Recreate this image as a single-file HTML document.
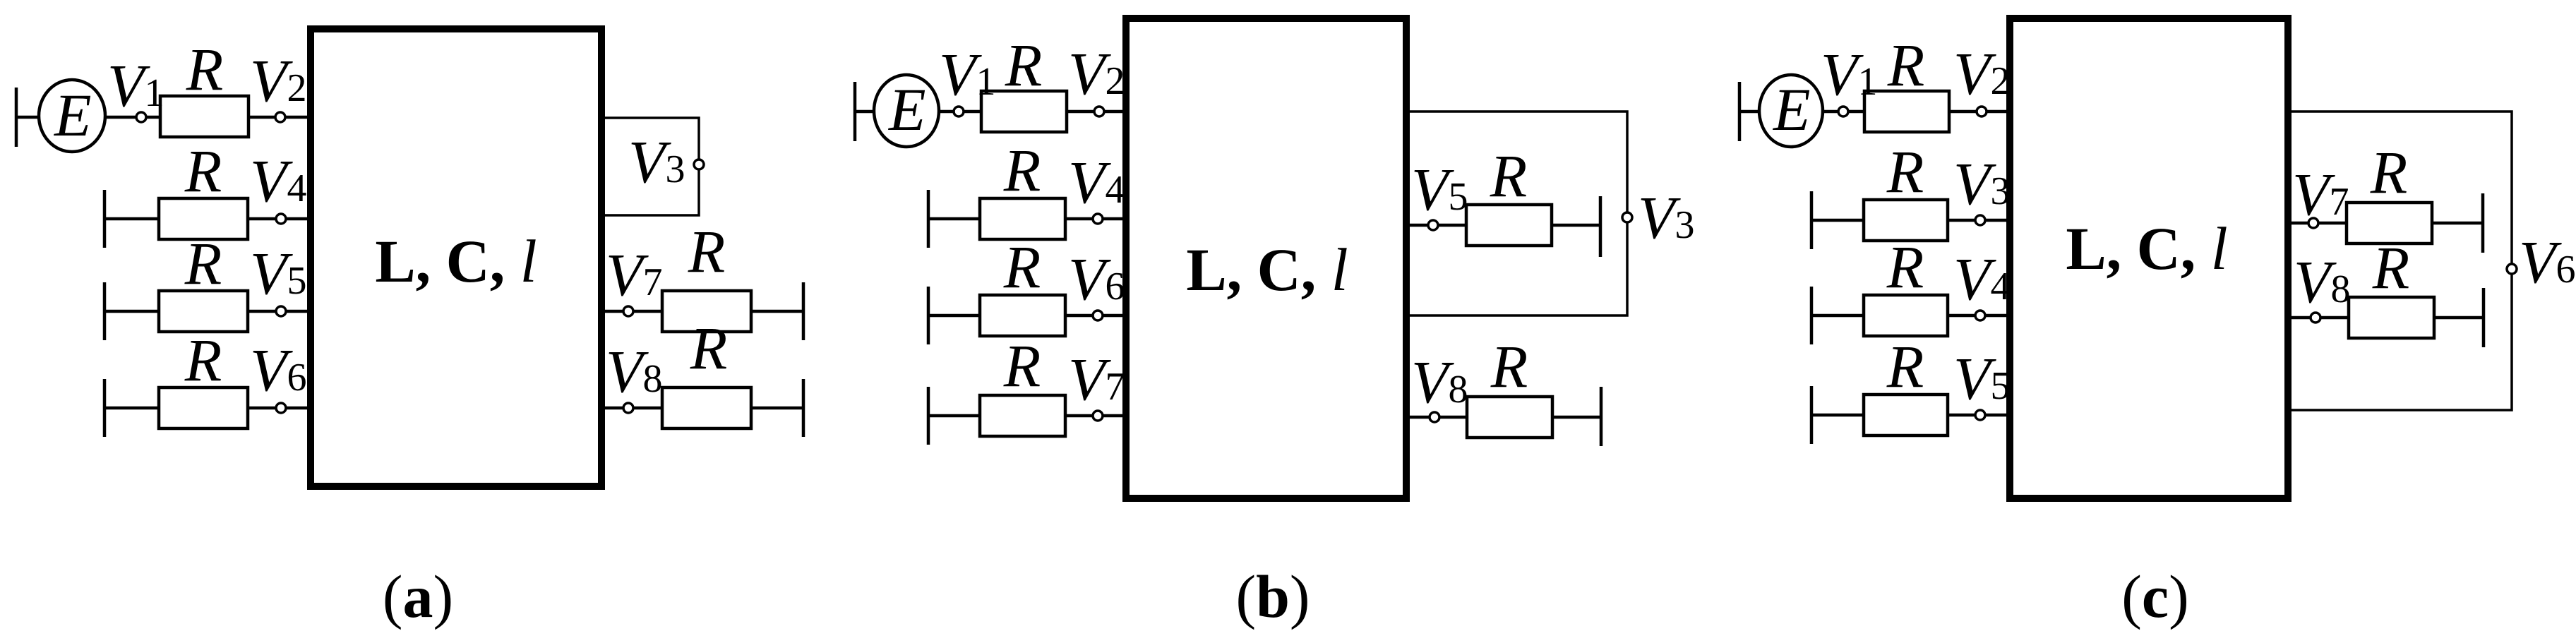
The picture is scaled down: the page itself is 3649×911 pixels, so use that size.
<!DOCTYPE html>
<html><head><meta charset="utf-8"><style>
html,body{margin:0;padding:0;background:#fff;}
svg{display:block;}
text{font-family:"Liberation Serif",serif;fill:#000;}
.i{font-style:italic;font-size:86px;}
.s{font-style:normal;font-size:56px;}
.b{font-weight:bold;font-size:86px;}
</style></head><body>
<svg width="3649" height="911" viewBox="0 0 3649 911" xmlns="http://www.w3.org/2000/svg">
<g fill="none" stroke="#000" stroke-width="4.5">
<!-- ===== Panel a ===== -->
<rect x="440" y="41" width="412" height="648" stroke-width="10"/>
<line x1="23" y1="124" x2="23" y2="208"/>
<line x1="23" y1="166" x2="54" y2="166"/>
<ellipse cx="102" cy="164" rx="47" ry="51"/>
<line x1="149" y1="166" x2="227" y2="166"/>
<rect x="227" y="136" width="125" height="58"/>
<line x1="352" y1="166" x2="440" y2="166"/>
<!-- rows -->
<line x1="148" y1="269" x2="148" y2="351"/><line x1="148" y1="310" x2="225" y2="310"/><rect x="225" y="281" width="126" height="58"/><line x1="351" y1="310" x2="440" y2="310"/>
<line x1="148" y1="400" x2="148" y2="482"/><line x1="148" y1="441" x2="225" y2="441"/><rect x="225" y="412" width="126" height="58"/><line x1="351" y1="441" x2="440" y2="441"/>
<line x1="148" y1="537" x2="148" y2="619"/><line x1="148" y1="578" x2="225" y2="578"/><rect x="225" y="549" width="126" height="58"/><line x1="351" y1="578" x2="440" y2="578"/>
<!-- right -->
<path d="M852 167 H990 V305 H852" stroke-width="3.5"/>
<line x1="852" y1="441" x2="938" y2="441"/><rect x="938" y="412" width="126" height="58"/><line x1="1064" y1="441" x2="1138" y2="441"/><line x1="1138" y1="400" x2="1138" y2="482"/>
<line x1="852" y1="578" x2="938" y2="578"/><rect x="938" y="549" width="126" height="58"/><line x1="1064" y1="578" x2="1138" y2="578"/><line x1="1138" y1="537" x2="1138" y2="619"/>

<!-- ===== Panel b ===== -->
<rect x="1595" y="26" width="397" height="680" stroke-width="10"/>
<line x1="1211" y1="116" x2="1211" y2="200"/>
<line x1="1211" y1="158" x2="1238" y2="158"/>
<ellipse cx="1284" cy="157" rx="46" ry="51"/>
<line x1="1330" y1="158" x2="1390" y2="158"/>
<rect x="1390" y="129" width="121" height="58"/>
<line x1="1511" y1="158" x2="1595" y2="158"/>
<line x1="1315" y1="269" x2="1315" y2="351"/><line x1="1315" y1="310" x2="1388" y2="310"/><rect x="1388" y="281" width="121" height="58"/><line x1="1509" y1="310" x2="1595" y2="310"/>
<line x1="1315" y1="406" x2="1315" y2="488"/><line x1="1315" y1="447" x2="1388" y2="447"/><rect x="1388" y="418" width="121" height="58"/><line x1="1509" y1="447" x2="1595" y2="447"/>
<line x1="1315" y1="548" x2="1315" y2="630"/><line x1="1315" y1="589" x2="1388" y2="589"/><rect x="1388" y="560" width="121" height="58"/><line x1="1509" y1="589" x2="1595" y2="589"/>
<path d="M1992 158 H2305 V447 H1992" stroke-width="3.5"/>
<line x1="1992" y1="319" x2="2077" y2="319"/><rect x="2077" y="290" width="121" height="58"/><line x1="2198" y1="319" x2="2267" y2="319"/><line x1="2267" y1="278" x2="2267" y2="364"/>
<line x1="1992" y1="591" x2="2078" y2="591"/><rect x="2078" y="562" width="121" height="58"/><line x1="2199" y1="591" x2="2268" y2="591"/><line x1="2268" y1="548" x2="2268" y2="632"/>

<!-- ===== Panel c ===== -->
<rect x="2847" y="26" width="394" height="680" stroke-width="10"/>
<line x1="2464" y1="116" x2="2464" y2="200"/>
<line x1="2464" y1="158" x2="2492" y2="158"/>
<ellipse cx="2537" cy="157" rx="45" ry="51"/>
<line x1="2582" y1="158" x2="2641" y2="158"/>
<rect x="2641" y="129" width="120" height="58"/>
<line x1="2761" y1="158" x2="2847" y2="158"/>
<line x1="2566" y1="271" x2="2566" y2="353"/><line x1="2566" y1="312" x2="2640" y2="312"/><rect x="2640" y="283" width="119" height="58"/><line x1="2759" y1="312" x2="2847" y2="312"/>
<line x1="2566" y1="406" x2="2566" y2="488"/><line x1="2566" y1="447" x2="2640" y2="447"/><rect x="2640" y="418" width="119" height="58"/><line x1="2759" y1="447" x2="2847" y2="447"/>
<line x1="2566" y1="547" x2="2566" y2="629"/><line x1="2566" y1="588" x2="2640" y2="588"/><rect x="2640" y="559" width="119" height="58"/><line x1="2759" y1="588" x2="2847" y2="588"/>
<path d="M3241 158 H3558 V581 H3241" stroke-width="3.5"/>
<line x1="3241" y1="316" x2="3324" y2="316"/><rect x="3324" y="287" width="121" height="58"/><line x1="3445" y1="316" x2="3517" y2="316"/><line x1="3517" y1="274" x2="3517" y2="358"/>
<line x1="3241" y1="450" x2="3327" y2="450"/><rect x="3327" y="421" width="121" height="58"/><line x1="3448" y1="450" x2="3518" y2="450"/><line x1="3518" y1="408" x2="3518" y2="492"/>
</g>

<!-- nodes -->
<g fill="#fff" stroke="#000" stroke-width="3.5">
<circle cx="200" cy="166" r="7"/><circle cx="397" cy="166" r="7"/><circle cx="398" cy="310" r="7"/><circle cx="398" cy="441" r="7"/><circle cx="398" cy="578" r="7"/>
<circle cx="990" cy="233" r="7"/><circle cx="890" cy="441" r="7"/><circle cx="890" cy="578" r="7"/>
<circle cx="1358" cy="158" r="7"/><circle cx="1557" cy="158" r="7"/><circle cx="1555" cy="310" r="7"/><circle cx="1555" cy="447" r="7"/><circle cx="1555" cy="589" r="7"/>
<circle cx="2305" cy="308" r="7"/><circle cx="2030" cy="319" r="7"/><circle cx="2032" cy="591" r="7"/>
<circle cx="2611" cy="158" r="7"/><circle cx="2807" cy="158" r="7"/><circle cx="2805" cy="312" r="7"/><circle cx="2805" cy="447" r="7"/><circle cx="2805" cy="588" r="7"/>
<circle cx="3558" cy="381" r="7"/><circle cx="3277" cy="316" r="7"/><circle cx="3280" cy="450" r="7"/>
</g>

<!-- Panel a text -->
<text class="i" x="77" y="192" font-size="80">E</text>
<text class="i" x="152" y="150">V<tspan class="s">1</tspan></text>
<text class="i" x="290" y="127" text-anchor="middle">R</text>
<text class="i" x="354" y="143">V<tspan class="s">2</tspan></text>
<text class="i" x="288" y="271" text-anchor="middle">R</text>
<text class="i" x="354" y="285">V<tspan class="s">4</tspan></text>
<text class="i" x="288" y="402" text-anchor="middle">R</text>
<text class="i" x="354" y="416">V<tspan class="s">5</tspan></text>
<text class="i" x="288" y="539" text-anchor="middle">R</text>
<text class="i" x="354" y="553">V<tspan class="s">6</tspan></text>
<text class="i" x="890" y="258">V<tspan class="s">3</tspan></text>
<text class="i" x="858" y="418">V<tspan class="s">7</tspan></text>
<text class="i" x="1001" y="385" text-anchor="middle">R</text>
<text class="i" x="858" y="555">V<tspan class="s">8</tspan></text>
<text class="i" x="1004" y="522" text-anchor="middle">R</text>
<text class="b" x="646" y="399" text-anchor="middle">L, C, <tspan font-style="italic" font-weight="normal">l</tspan></text>
<text class="b" x="592" y="874" text-anchor="middle"><tspan font-weight="normal">(</tspan>a<tspan font-weight="normal">)</tspan></text>

<!-- Panel b text -->
<text class="i" x="1259" y="184" font-size="80">E</text>
<text class="i" x="1330" y="134">V<tspan class="s">1</tspan></text>
<text class="i" x="1450" y="121" text-anchor="middle">R</text>
<text class="i" x="1513" y="133">V<tspan class="s">2</tspan></text>
<text class="i" x="1448" y="270" text-anchor="middle">R</text>
<text class="i" x="1513" y="287">V<tspan class="s">4</tspan></text>
<text class="i" x="1448" y="407" text-anchor="middle">R</text>
<text class="i" x="1513" y="424">V<tspan class="s">6</tspan></text>
<text class="i" x="1448" y="547" text-anchor="middle">R</text>
<text class="i" x="1513" y="566">V<tspan class="s">7</tspan></text>
<text class="i" x="2320" y="337">V<tspan class="s">3</tspan></text>
<text class="i" x="1999" y="297">V<tspan class="s">5</tspan></text>
<text class="i" x="2137" y="278" text-anchor="middle">R</text>
<text class="i" x="1999" y="570">V<tspan class="s">8</tspan></text>
<text class="i" x="2138" y="548" text-anchor="middle">R</text>
<text class="b" x="1795" y="411" text-anchor="middle">L, C, <tspan font-style="italic" font-weight="normal">l</tspan></text>
<text class="b" x="1803" y="874" text-anchor="middle"><tspan font-weight="normal">(</tspan>b<tspan font-weight="normal">)</tspan></text>

<!-- Panel c text -->
<text class="i" x="2512" y="184" font-size="80">E</text>
<text class="i" x="2579" y="134">V<tspan class="s">1</tspan></text>
<text class="i" x="2700" y="121" text-anchor="middle">R</text>
<text class="i" x="2767" y="133">V<tspan class="s">2</tspan></text>
<text class="i" x="2699" y="272" text-anchor="middle">R</text>
<text class="i" x="2767" y="289">V<tspan class="s">3</tspan></text>
<text class="i" x="2699" y="407" text-anchor="middle">R</text>
<text class="i" x="2767" y="424">V<tspan class="s">4</tspan></text>
<text class="i" x="2699" y="548" text-anchor="middle">R</text>
<text class="i" x="2767" y="565">V<tspan class="s">5</tspan></text>
<text class="i" x="3568" y="400">V<tspan class="s">6</tspan></text>
<text class="i" x="3247" y="304">V<tspan class="s">7</tspan></text>
<text class="i" x="3384" y="273" text-anchor="middle">R</text>
<text class="i" x="3249" y="428">V<tspan class="s">8</tspan></text>
<text class="i" x="3387" y="408" text-anchor="middle">R</text>
<text class="b" x="3041" y="381" text-anchor="middle">L, C, <tspan font-style="italic" font-weight="normal">l</tspan></text>
<text class="b" x="3053" y="874" text-anchor="middle"><tspan font-weight="normal">(</tspan>c<tspan font-weight="normal">)</tspan></text>
</svg>
</body></html>
